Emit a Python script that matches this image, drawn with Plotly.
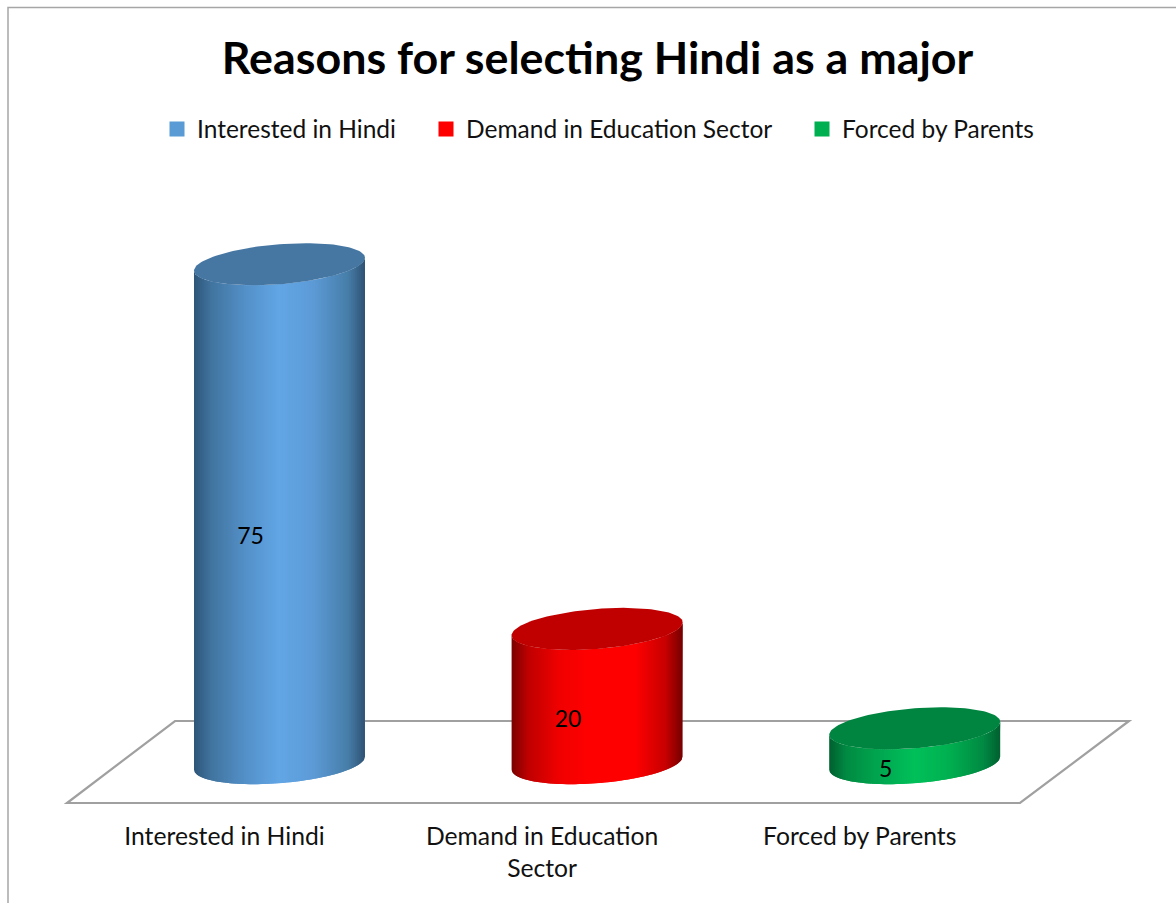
import math
import plotly.graph_objects as go

# --- data ---
categories = ["Interested in Hindi", "Demand in Education Sector", "Forced by Parents"]
tick_labels = ["Interested in Hindi", "Demand in Education<br>Sector", "Forced by Parents"]
values = [75, 20, 5]

# --- styles ---
side_stops = [
    [(0, "#2e5578"), (.1, "#41749f"), (.3, "#5390c8"), (.5, "#62a6e6"), (.7, "#5c9ad6"), (.9, "#477ea9"), (1, "#2f5273")],
    [(0, "#7a0000"), (.1, "#c00000"), (.28, "#f00000"), (.45, "#ff0000"), (.72, "#ff0000"), (.9, "#c80000"), (1, "#740000")],
    [(0, "#00602f"), (.1, "#008a42"), (.3, "#00a850"), (.5, "#00c05a"), (.7, "#00b050"), (.9, "#008a42"), (1, "#005f30")],
]
top_colors = ["#4677a3", "#c00000", "#008540"]
legend_colors = ["#5b9bd5", "#ff0000", "#00b050"]

W, H = 1176, 903
PLOT_BOTTOM = 815
X0_PX, X_SCALE = 279.5, 317.6
Y0_PX, Y_SCALE = 761.5, 6.63
BASE = -0.25
A = 85.5 / X_SCALE      # half-width, data units
B = 20.0 / Y_SCALE      # half-depth, data units
S = 6.5 / Y_SCALE       # tilt, data units
FONT = "Lato"
N = 85


def mix(stops, u):
    for (u0, c0), (u1, c1) in zip(stops, stops[1:]):
        if u <= u1:
            f = (u - u0) / (u1 - u0)
            ch = [round(int(c0[i:i+2], 16) * (1 - f) + int(c1[i:i+2], 16) * f) for i in (1, 3, 5)]
            return "#%02x%02x%02x" % tuple(ch)
    return stops[-1][1]


def front(u):
    c = 2 * u - 1
    return -B * math.sqrt(max(0, 1 - c * c)) + S * c


fig = go.Figure()
for i, v in enumerate(values):
    for k in range(N):
        # each strip runs on under the next one, so no seam shows between them
        end = min(k + 2, N)
        us = [(k + (end - k) * j / 8) / N for j in range(9)]
        xs = [i + A * (2 * u - 1) for u in us]
        top = [v + front(u) for u in us]
        bot = [BASE + front(u) for u in us]
        col = mix(side_stops[i], (k + .5) / N)
        fig.add_trace(go.Scatter(x=xs + xs[::-1], y=top + bot[::-1], mode="lines", fill="toself",
                                 fillcolor=col, line=dict(color=col, width=0), showlegend=False, hoverinfo="skip"))
    ang = [2 * math.pi * j / 120 for j in range(121)]
    ex = [i + A * math.cos(t) for t in ang]
    ey = [v - B * math.sin(t) + S * math.cos(t) for t in ang]
    fig.add_trace(go.Scatter(x=ex, y=ey, mode="lines", fill="toself", fillcolor=top_colors[i],
                             line=dict(color=top_colors[i], width=0), showlegend=False, hoverinfo="skip"))

fig.add_trace(go.Scatter(x=[i - 29 / X_SCALE for i in range(3)], y=[v / 2 - 3.9 for v in values],
                         text=[str(v) for v in values], mode="text", textposition="middle center",
                         textfont=dict(family=FONT, size=23, color="black"), showlegend=False, hoverinfo="skip"))

legend_names = ["legend", "legend2", "legend3"]
for name, col, lg in zip(categories, legend_colors, legend_names):
    fig.add_trace(go.Scatter(x=[None], y=[None], mode="markers", name=name, legend=lg,
                             marker=dict(symbol="square", size=15, color=col)))


def legend(x_px):
    return dict(x=x_px / W, y=1 - 129 / PLOT_BOTTOM, xanchor="left", yanchor="middle", orientation="h",
                bgcolor="rgba(0,0,0,0)", font=dict(family=FONT, size=24.5, color="#111111"), itemsizing="trace")


PH = PLOT_BOTTOM
floor = dict(type="path", xref="paper", yref="paper", layer="below",
             path="M%f,%f L%f,%f L%f,%f L%f,%f Z" % (67 / W, 1 - 803 / PH, 1020 / W, 1 - 803 / PH, 1129 / W, 1 - 721 / PH, 175 / W, 1 - 721 / PH),
             line=dict(color="#a0a0a0", width=2.2))
frame = dict(type="path", xref="paper", yref="paper", layer="below",
             path="M%f,%f L%f,%f L%f,%f" % (8 / W, 1 - 903 / PH, 8 / W, 1 - 7.5 / PH, 1, 1 - 7.5 / PH),
             line=dict(color="#a6a6a6", width=1.5))

fig.update_layout(
    width=W, height=H, margin=dict(l=0, r=0, t=0, b=H - PLOT_BOTTOM, autoexpand=False),
    paper_bgcolor="white", plot_bgcolor="white",
    title=dict(text="<b>Reasons for selecting Hindi as a major</b>", x=597.5 / W, y=1 - 58 / H,
               xanchor="center", yanchor="middle", font=dict(family=FONT, size=44.8, color="black")),
    xaxis=dict(range=[-X0_PX / X_SCALE, (W - X0_PX) / X_SCALE], showgrid=False, zeroline=False, showline=False,
               tickmode="array", tickvals=[i - 55 / X_SCALE for i in range(3)], ticktext=tick_labels,
               ticks="", tickangle=0, ticklabelstandoff=4, tickfont=dict(family=FONT, size=24.7, color="#111111")),
    yaxis=dict(range=[(Y0_PX - PLOT_BOTTOM) / Y_SCALE, Y0_PX / Y_SCALE], visible=False),
    shapes=[floor, frame],
    legend=legend(157), legend2=legend(426), legend3=legend(802),
    hovermode=False,
)
fig.write_html("out.html", config=dict(displayModeBar=False),
               post_script="document.body.style.margin='0';document.body.style.overflow='hidden';")
